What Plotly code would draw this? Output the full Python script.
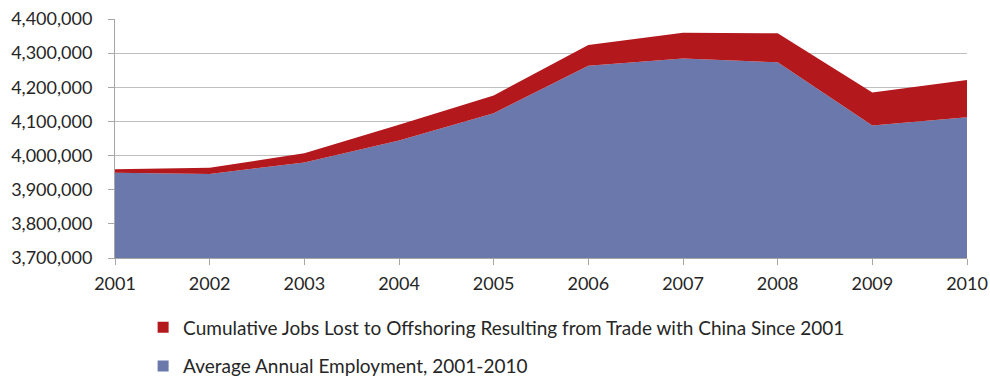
import plotly.graph_objects as go

years = [2001, 2002, 2003, 2004, 2005, 2006, 2007, 2008, 2009, 2010]
employment = [3950000, 3946000, 3980000, 4044000, 4124000, 4263000, 4284000, 4273000, 4088000, 4112000]
jobs_lost = [10000, 18000, 27000, 46000, 52000, 61000, 76000, 85000, 97000, 109000]

name_lost = "Cumulative Jobs Lost to Offshoring Resulting from Trade with China Since 2001"
name_emp = "Average Annual Employment, 2001-2010"

BLUE = "#6A78AB"
RED = "#B3181D"
FONT = "Lato"

fig = go.Figure()
fig.add_trace(go.Scatter(x=years, y=employment, stackgroup="one", mode="none",
                         fillcolor=BLUE, showlegend=False, name=name_emp))
fig.add_trace(go.Scatter(x=years, y=jobs_lost, stackgroup="one", mode="none",
                         fillcolor=RED, showlegend=False, name=name_lost))
# legend entries
fig.add_trace(go.Scatter(x=[None], y=[None], mode="markers", name=name_lost,
                         marker=dict(symbol="square", size=11, color=RED),
                         legendgroup="a"))
fig.add_trace(go.Scatter(x=[None], y=[None], mode="markers", name=name_emp,
                         marker=dict(symbol="square", size=11, color=BLUE),
                         legendgroup="b"))

fig.update_layout(
    width=990, height=379,
    margin=dict(l=115, r=23, t=19, b=121, autoexpand=False),
    paper_bgcolor="white", plot_bgcolor="white",
    font=dict(family=FONT, size=18, color="#262626"),
    legend=dict(x=0.033, y=-0.211, xanchor="left", yanchor="top",
                traceorder="grouped", tracegroupgap=11,
                itemwidth=30, font=dict(size=19)),
    showlegend=True,
)
fig.update_xaxes(range=[2001, 2010], tickvals=years, ticktext=[str(y) for y in years],
                 showgrid=False, showline=True, linecolor="#A6A6A6", linewidth=1,
                 ticks="outside", ticklen=6, tickcolor="#A6A6A6", zeroline=False,
                 ticklabelstandoff=3, ticklabeloverflow="allow")
fig.update_yaxes(range=[3700000, 4400000], dtick=100000, tickformat=",d",
                 showgrid=True, gridcolor="#BFBFBF", gridwidth=1,
                 showline=True, linecolor="#A6A6A6", linewidth=1,
                 ticks="outside", ticklen=6, tickcolor="#A6A6A6", zeroline=False,
                 ticklabelstandoff=12, ticklabeloverflow="allow")

fig.write_html("out.html", config={"displayModeBar": False},
               post_script="document.body.style.margin='0';")
